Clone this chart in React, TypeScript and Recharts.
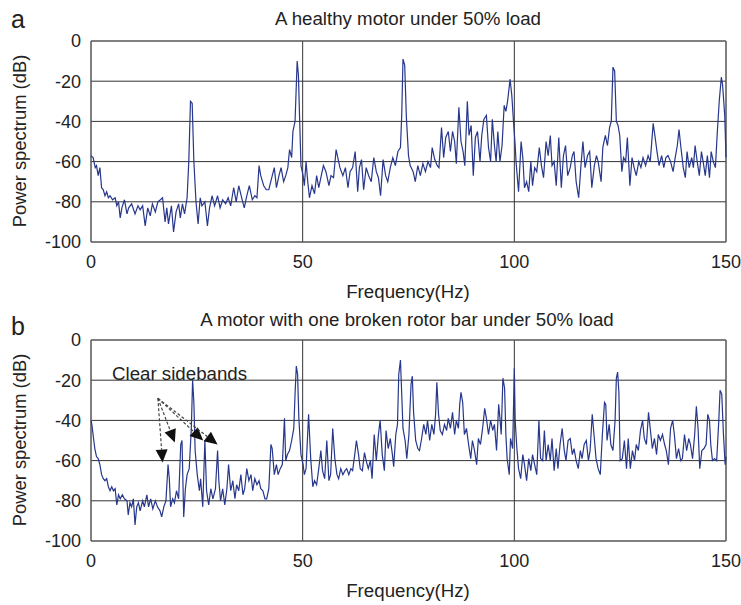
import React from "react";
import {
  LineChart,
  Line,
  XAxis,
  YAxis,
  CartesianGrid,
  ReferenceArea,
  ReferenceLine,
} from "recharts";

type Pt = [number, number];

// (a) healthy motor, 50% load  -> [frequency Hz, power dB]
const healthyLow: Pt[] = [
  [0, -57], [0.5, -58], [1, -63], [1.3, -62], [1.7, -67], [2.1, -63], [2.5, -73], [2.9, -74],
  [3.3, -77], [3.7, -75], [4.1, -78], [4.5, -77], [5.1, -79], [5.7, -78], [6.1, -82], [6.5, -80],
  [6.9, -88], [7.3, -83], [7.9, -79], [8.5, -86], [8.9, -83], [9.6, -81], [10.4, -86], [11.1, -82],
  [11.6, -84], [12.2, -82], [12.8, -92], [13.4, -83], [14, -87], [14.5, -81], [15.2, -85], [15.8, -80],
  [16.4, -79], [16.9, -78], [17.5, -90], [17.9, -83], [18.3, -91], [19, -82], [19.5, -95], [20.1, -85],
  [20.7, -81], [21.1, -88], [21.6, -81], [22.1, -86], [22.7, -78], [23.1, -60], [23.5, -30], [23.9, -31],
  [24.3, -60], [24.8, -80], [25.3, -91], [25.8, -78], [26.2, -82], [26.9, -80], [27.5, -92], [28, -83],
  [28.6, -77], [29.2, -82], [29.9, -77], [30.5, -83], [31.1, -79], [31.8, -81], [32.4, -78], [33, -82],
  [33.7, -73], [34.3, -80], [34.9, -72], [35.6, -78], [36.2, -83], [36.8, -77], [37.4, -72], [38.1, -79],
  [38.7, -77], [39.2, -78], [39.7, -62], [40.1, -67], [40.8, -72], [41.4, -74], [42, -74], [42.7, -68],
  [43.3, -63], [43.8, -73], [44.4, -67], [44.9, -63], [45.5, -70], [46, -67], [46.5, -63], [46.9, -54],
  [47.4, -58], [47.7, -45], [48.2, -40], [48.7, -10], [49, -17], [49.3, -40], [49.6, -62], [50.1, -67],
];
const healthyMid: Pt[] = [
  [50.4, -72], [50.8, -60], [51.2, -70], [51.6, -78], [52.2, -72], [52.8, -76], [53.3, -67], [53.8, -73],
  [54.3, -68], [54.9, -62], [55.5, -65], [56.2, -72], [56.7, -67], [57.3, -68], [57.9, -54], [58.4, -59],
  [58.8, -63], [59.5, -67], [60.1, -63], [60.7, -73], [61.2, -65], [61.8, -63], [62.4, -55], [63, -75],
  [63.4, -63], [63.9, -59], [64.4, -74], [65, -63], [65.6, -67], [66.2, -70], [66.8, -58], [67.4, -65],
  [67.9, -68], [68.4, -77], [69, -59], [69.6, -67], [70.1, -70], [70.7, -63], [71.3, -58], [71.9, -62],
  [72.5, -55], [73.1, -53], [73.4, -37], [73.7, -9], [74.1, -12], [74.5, -38], [75, -57], [75.4, -62],
  [76.1, -65], [76.6, -70], [77.2, -62], [77.8, -67], [78.4, -61], [79, -65], [79.6, -60], [80.2, -63],
  [80.6, -53], [81.2, -59], [81.8, -62], [82.2, -63], [82.8, -43], [83.3, -58], [83.8, -48], [84.4, -45],
  [84.9, -55], [85.4, -45], [85.9, -50], [86.3, -61], [86.9, -33], [87.4, -50], [87.9, -55], [88.3, -62],
  [88.9, -30], [89.3, -47], [89.8, -42], [90.3, -67], [90.8, -48], [91.3, -45], [91.9, -60], [92.3, -47],
  [92.8, -39], [93.4, -37], [93.9, -53], [94.4, -60], [94.8, -39], [95.3, -52], [95.7, -60], [96.1, -45],
  [96.6, -60], [97.1, -52], [97.6, -32], [98, -35], [98.4, -30], [99, -19], [99.4, -27], [99.8, -40],
];
const healthyHigh: Pt[] = [
  [100.2, -52], [100.4, -60], [101, -75], [101.6, -50], [102, -58], [102.4, -73], [102.9, -70], [103.4, -75],
  [103.9, -60], [104.3, -72], [104.8, -63], [105.3, -65], [105.9, -53], [106.4, -62], [106.9, -68], [107.5, -50],
  [108, -57], [108.5, -47], [108.9, -62], [109.4, -60], [109.9, -72], [110.5, -48], [111.1, -73], [111.6, -57],
  [112.1, -52], [112.6, -67], [113.2, -63], [113.7, -57], [114.1, -55], [114.6, -70], [115.2, -78], [115.7, -63],
  [116.2, -50], [116.7, -63], [117.3, -57], [117.8, -55], [118.3, -73], [118.9, -62], [119.4, -57], [119.8, -60],
  [120.5, -70], [120.9, -53], [121.5, -47], [122, -52], [122.5, -43], [122.9, -40], [123.3, -13], [123.7, -15],
  [124.1, -40], [124.5, -42], [124.9, -47], [125.4, -65], [125.8, -58], [126.3, -60], [126.7, -48], [127.3, -72],
  [127.8, -58], [128.3, -63], [128.8, -67], [129.4, -60], [129.9, -63], [130.4, -58], [131, -62], [131.6, -57],
  [132.1, -60], [132.8, -41], [133.2, -47], [133.7, -55], [134.2, -62], [134.8, -57], [135.3, -63], [135.8, -58],
  [136.3, -57], [136.9, -60], [137.5, -65], [138, -58], [138.5, -52], [138.9, -44], [139.3, -52], [139.9, -63],
  [140.4, -68], [140.8, -55], [141.3, -63], [141.9, -58], [142.3, -63], [142.7, -52], [143.2, -60], [143.7, -67],
  [144.2, -55], [144.6, -60], [145.1, -67], [145.6, -57], [146.1, -68], [146.5, -55], [147, -60], [147.5, -63],
  [147.9, -47], [148.4, -30], [148.9, -18], [149.2, -22], [149.7, -37], [150, -58],
];

// (b) one broken rotor bar, 50% load
const brokenLow: Pt[] = [
  [0, -40], [0.2, -42], [0.6, -49], [0.9, -54], [1.3, -58], [1.7, -59], [2.1, -62], [2.5, -67],
  [2.9, -69], [3.3, -70], [3.7, -69], [4.1, -73], [4.5, -75], [4.9, -73], [5.3, -75], [5.7, -74],
  [6.1, -82], [6.5, -77], [6.9, -79], [7.4, -77], [7.9, -79], [8.5, -80], [8.8, -87], [9.2, -81],
  [9.6, -83], [10, -79], [10.4, -92], [10.8, -83], [11.2, -81], [11.6, -85], [12.2, -80], [12.6, -83],
  [13.2, -77], [13.6, -83], [14.1, -79], [14.6, -84], [15.2, -80], [15.7, -83], [16.3, -85], [16.7, -88],
  [17.2, -83], [17.7, -80], [18.2, -62], [18.5, -69], [18.8, -83], [19.3, -79], [19.7, -81], [20.2, -75],
  [20.7, -79], [21.2, -52], [21.5, -50], [21.9, -88], [22.3, -74], [22.7, -67], [23.2, -64], [23.7, -44],
  [24, -20], [24.3, -31], [24.6, -55], [25.1, -67], [25.6, -75], [25.9, -69], [26.4, -83], [26.9, -50],
  [27.3, -75], [27.8, -82], [28.3, -74], [28.8, -79], [29.4, -74], [29.9, -55], [30.2, -70], [30.6, -80],
  [31.1, -74], [31.6, -82], [32.1, -74], [32.5, -62], [33, -75], [33.5, -70], [34, -79], [34.4, -72],
  [34.9, -75], [35.4, -67], [35.9, -77], [36.3, -74], [36.8, -64], [37.3, -70], [37.8, -67], [38.2, -75],
  [38.7, -69], [39.2, -72], [39.7, -70], [40.1, -74], [40.6, -75], [41.1, -79], [41.5, -79], [42, -74],
  [42.5, -52], [42.8, -54], [43.3, -67], [43.8, -62], [44.2, -67], [44.7, -64], [45.2, -62], [45.7, -39],
  [46, -60], [46.4, -57], [46.9, -55], [47.4, -50], [47.9, -44], [48.2, -27], [48.5, -13], [48.8, -17],
  [49.1, -39], [49.6, -57], [50.1, -62],
];
const brokenMid: Pt[] = [
  [50.4, -67], [50.8, -64], [51.4, -37], [51.9, -59], [52.4, -73], [52.8, -70], [53.3, -72], [53.8, -64],
  [54.3, -55], [54.7, -65], [55.2, -69], [55.7, -50], [56.2, -70], [56.6, -67], [57.1, -44], [57.6, -59],
  [58.1, -67], [58.5, -69], [59, -64], [59.5, -67], [60, -65], [60.4, -64], [60.9, -67], [61.4, -64],
  [61.8, -65], [62.3, -57], [62.7, -50], [63.2, -57], [63.6, -64], [64.1, -65], [64.6, -56], [65, -60],
  [65.5, -64], [66, -60], [66.4, -69], [66.9, -47], [67.4, -60], [67.9, -47], [68.3, -40], [68.8, -57],
  [69.3, -65], [69.7, -45], [70.2, -54], [70.7, -49], [71.2, -57], [71.5, -63], [72, -47], [72.4, -42],
  [72.7, -17], [73.1, -10], [73.4, -27], [73.7, -44], [74.2, -50], [74.6, -59], [75.1, -47], [75.6, -22],
  [75.9, -18], [76.2, -36], [76.7, -50], [77.2, -54], [77.6, -55], [78.1, -49], [78.6, -42], [79.1, -47],
  [79.5, -40], [80, -50], [80.5, -42], [81, -47], [81.4, -37], [81.7, -21], [82.1, -37], [82.5, -45],
  [83, -47], [83.5, -42], [84, -45], [84.4, -39], [84.9, -44], [85.4, -36], [85.9, -47], [86.3, -40],
  [86.8, -44], [87.1, -32], [87.4, -26], [87.8, -31], [88.2, -47], [88.7, -44], [89.2, -52], [89.7, -59],
  [90.1, -50], [90.6, -55], [91.1, -62], [91.5, -49], [92, -52], [92.5, -44], [93, -34], [93.4, -39],
  [93.9, -47], [94.4, -40], [94.9, -45], [95.3, -42], [95.8, -55], [96.3, -32], [96.6, -39], [96.9, -47],
  [97.3, -19], [97.7, -24], [98, -47], [98.3, -59], [98.8, -67], [99.1, -49], [99.6, -54], [100, -14],
];
const brokenHigh: Pt[] = [
  [100.2, -40], [100.6, -54], [101, -64], [101.5, -69], [102, -57], [102.4, -62], [102.9, -70], [103.4, -59],
  [103.9, -65], [104.3, -57], [104.8, -62], [105.3, -67], [105.8, -40], [106.2, -59], [106.7, -60], [107.1, -45],
  [107.5, -60], [108, -52], [108.5, -60], [108.9, -49], [109.4, -65], [109.9, -54], [110.3, -64], [110.8, -52],
  [111.3, -44], [111.8, -55], [112.2, -60], [112.7, -50], [113.2, -49], [113.7, -57], [114.1, -54], [114.6, -60],
  [115.1, -64], [115.6, -55], [116, -59], [116.5, -52], [117, -50], [117.5, -60], [117.9, -55], [118.4, -37],
  [118.9, -49], [119.3, -59], [119.8, -64], [120.3, -67], [120.8, -47], [121.3, -31], [121.6, -32], [121.9, -50],
  [122.4, -42], [122.8, -52], [123.3, -55], [123.8, -40], [124.1, -19], [124.4, -16], [124.7, -26], [125, -60],
  [125.5, -59], [126, -50], [126.5, -64], [126.9, -49], [127.4, -64], [127.9, -55], [128.4, -60], [128.8, -52],
  [129.3, -55], [129.8, -45], [130.3, -40], [130.7, -49], [131.2, -52], [131.7, -36], [132.1, -44], [132.6, -54],
  [133.1, -49], [133.6, -57], [134, -47], [134.5, -50], [135, -47], [135.5, -52], [135.9, -55], [136.4, -62],
  [136.9, -44], [137.4, -40], [137.8, -47], [138.3, -59], [138.8, -54], [139.3, -60], [139.7, -59], [140.2, -47],
  [140.7, -55], [141.2, -49], [141.6, -52], [142.1, -59], [142.6, -47], [143, -33], [143.4, -44], [143.8, -64],
  [144.3, -55], [144.8, -54], [145.3, -52], [145.7, -37], [146.1, -40], [146.4, -52], [146.8, -60], [147.3, -59],
  [147.8, -60], [148.3, -40], [148.6, -25], [149, -27], [149.4, -47], [149.8, -62], [150, -58],
];

const freqTicks = [0, 50, 100, 150];
const dbTicks = [-100, -80, -60, -40, -20, 0];

// "Clear sidebands" arrows: common tail, one head per sideband
const arrowTail: Pt = [15.8, -29];
const arrowHeads: Pt[] = [[16.9, -61], [19.8, -51], [26.5, -50], [29.9, -52]];

const FONT = '"Liberation Sans", Arial, Helvetica, sans-serif';
const INK = "#222";
const TRACE = "#27378c";

const tickStyle = { fontSize: 18, fill: INK, fontFamily: FONT };

const Arrow = (p: any) => {
  const { x1, y1, x2, y2 } = p;
  const ang = Math.atan2(y2 - y1, x2 - x1);
  const len = 13;
  const half = 6;
  const bx = x2 - len * Math.cos(ang);
  const by = y2 - len * Math.sin(ang);
  const nx = -Math.sin(ang) * half;
  const ny = Math.cos(ang) * half;
  return (
    <g>
      <line x1={x1} y1={y1} x2={bx} y2={by} stroke="#444" strokeWidth={1.2} strokeDasharray="3 2" />
      <polygon points={`${x2},${y2} ${bx + nx},${by + ny} ${bx - nx},${by - ny}`} fill="#111" />
    </g>
  );
};

const Spectrum = ({ pts, top, arrows }: { pts: Pt[]; top: number; arrows?: boolean }) => {
  const data = pts.map(([hz, db]) => ({ hz, db }));
  return (
    <div style={{ position: "absolute", left: 0, top }}>
      <LineChart
        width={741}
        height={300}
        data={data}
        margin={{ top: 41, right: 15, bottom: 0, left: 0 }}
      >
        <CartesianGrid stroke="#333" strokeWidth={1} />
        <XAxis
          type="number"
          dataKey="hz"
          domain={[0, 150]}
          ticks={freqTicks}
          interval={0}
          height={58}
          axisLine={false}
          tickLine={false}
          tickSize={0}
          tickMargin={13}
          tick={tickStyle}
        />
        <YAxis
          type="number"
          domain={[-100, 0]}
          ticks={dbTicks}
          interval={0}
          width={91}
          axisLine={false}
          tickLine={false}
          tickSize={0}
          tickMargin={10}
          tick={tickStyle}
        />
        <ReferenceArea x1={0} x2={150} y1={-100} y2={0} fill="none" stroke="#666" ifOverflow="visible" />
        <Line
          type="linear"
          dataKey="db"
          stroke={TRACE}
          strokeWidth={1.2}
          dot={false}
          activeDot={false}
          isAnimationActive={false}
        />
        {arrows &&
          arrowHeads.map((h, i) => (
            <ReferenceLine
              key={i}
              segment={[
                { x: arrowTail[0], y: arrowTail[1] },
                { x: h[0], y: h[1] },
              ]}
              ifOverflow="visible"
              shape={Arrow}
            />
          ))}
      </LineChart>
    </div>
  );
};

const App = () => (
  <div style={{ position: "absolute", left: 0, top: 0, width: 741, height: 605, background: "#fff" }}>
    <Spectrum pts={[...healthyLow, ...healthyMid, ...healthyHigh]} top={0} />
    <Spectrum pts={[...brokenLow, ...brokenMid, ...brokenHigh]} top={299} arrows />
    <svg
      width={741}
      height={605}
      style={{ position: "absolute", left: 0, top: 0, pointerEvents: "none" }}
      fontFamily={FONT}
      fill={INK}
    >
      <text x={11} y={28} fontSize={25}>a</text>
      <text x={408} y={25} fontSize={18.7} textAnchor="middle">A healthy motor under 50% load</text>
      <text x={408} y={298} fontSize={18.7} textAnchor="middle">Frequency(Hz)</text>
      <text transform="translate(26,141) rotate(-90)" fontSize={18.4} textAnchor="middle">Power spectrum (dB)</text>

      <text x={11} y={335} fontSize={25}>b</text>
      <text x={407} y={326} fontSize={18.7} textAnchor="middle">A motor with one broken rotor bar under 50% load</text>
      <text x={408} y={597} fontSize={18.7} textAnchor="middle">Frequency(Hz)</text>
      <text transform="translate(26,440) rotate(-90)" fontSize={18.4} textAnchor="middle">Power spectrum (dB)</text>
      <text x={112} y={380} fontSize={18.7}>Clear sidebands</text>
    </svg>
  </div>
);

export default App;
